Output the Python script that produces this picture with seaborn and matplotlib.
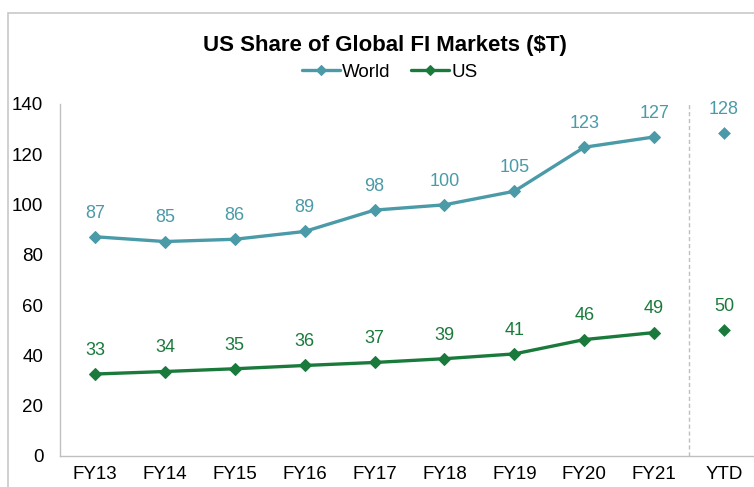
import matplotlib
matplotlib.use("Agg")
import matplotlib.pyplot as plt
import seaborn as sns
import pandas as pd
from matplotlib.patches import Rectangle

years = ["FY13", "FY14", "FY15", "FY16", "FY17", "FY18", "FY19", "FY20", "FY21"]
world = [87.2, 85.3, 86.2, 89.3, 97.8, 99.9, 105.3, 122.8, 126.9]
us = [32.6, 33.6, 34.7, 36.0, 37.2, 38.7, 40.6, 46.3, 49.1]
ytd_label = "YTD"
world_ytd = 128.4
us_ytd = 50.2

WORLD_COLOR = "#4a9aa8"
US_COLOR = "#1a7a3c"

sns.set_style("white")
plt.rcParams["font.family"] = ["Liberation Sans", "DejaVu Sans"]
plt.rcParams["text.color"] = "black"

df = pd.DataFrame({"year": years, "World": world, "US": us})
df_ytd = pd.DataFrame({"year": [ytd_label], "World": [world_ytd], "US": [us_ytd]})

fig = plt.figure(figsize=(7.54, 4.87), dpi=100)
ax = fig.add_axes([60 / 754, 31 / 487, 699 / 754, 352 / 487])

# outer chart border
fig.patches.append(Rectangle((8 / 754, -0.1), 1.2, 0.1 + 474 / 487, transform=fig.transFigure,
                             fill=False, edgecolor="#c8c8c8", linewidth=1.2, zorder=0))

for name, color in [("World", WORLD_COLOR), ("US", US_COLOR)]:
    sns.lineplot(data=df, x="year", y=name, ax=ax, color=color, linewidth=2.4,
                 marker="D", markersize=6, markeredgecolor=color, label=name, sort=False)
    sns.scatterplot(data=df_ytd, x="year", y=name, ax=ax, color=color, marker="D",
                    s=36, edgecolor=color, legend=False)
    for x, v in zip(list(df["year"]) + [ytd_label], list(df[name]) + list(df_ytd[name])):
        ax.annotate(f"{round(v)}", (x, v), xytext=(0, 17), textcoords="offset points",
                    ha="center", va="center", fontsize=13, color=color)

ax.axvline(8.5, color="#bfbfbf", linestyle=(0, (3, 2)), linewidth=1)

ax.set_xlim(-0.5, 9.5)
ax.set_ylim(0, 140)
ax.set_yticks(range(0, 141, 20))
ax.set_xlabel("")
ax.set_ylabel("")
ax.tick_params(axis="both", labelsize=13.5, length=0, colors="black")
ax.tick_params(axis="y", pad=12)
ax.tick_params(axis="x", pad=7)
for side in ["top", "right"]:
    ax.spines[side].set_visible(False)
for side in ["left", "bottom"]:
    ax.spines[side].set_color("#c0c0c0")
    ax.spines[side].set_linewidth(1)

leg = ax.legend(loc="center", bbox_to_anchor=(390 / 754, 1 - 72 / 487), bbox_transform=fig.transFigure,
                ncol=2, frameon=False, fontsize=13.5, handlelength=2.0, handletextpad=0.15,
                columnspacing=1.1, markerscale=0.8)
for t in leg.get_texts():
    t.set_color("black")
fig.text(385 / 754, 1 - 45 / 487, "US Share of Global FI Markets ($T)", ha="center", va="center",
         fontsize=16, fontweight="bold", color="black")

fig.savefig("out.png", dpi=100)
